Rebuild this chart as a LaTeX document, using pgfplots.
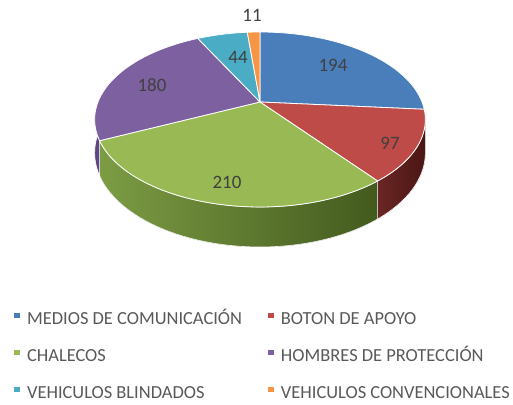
\documentclass[border=0pt]{standalone}
\usepackage{pgfplots}
\pgfplotsset{compat=1.18}
\usepackage{pgfplotstable}
\usepgfplotslibrary{fillbetween}
\usepackage{fontspec}
\setmainfont{Carlito}

\definecolor{cA}{HTML}{4A7EBB}
\definecolor{cB}{HTML}{BE4B48}
\definecolor{cC}{HTML}{98B954}
\definecolor{cD}{HTML}{7D60A0}
\definecolor{cE}{HTML}{4AACC5}
\definecolor{cF}{HTML}{F69546}
\definecolor{sideCL}{HTML}{7C9C44}
\definecolor{sideCR}{HTML}{435A1E}
\definecolor{sideBL}{HTML}{6A2624}
\definecolor{sideBR}{HTML}{4A1614}
\definecolor{sideD}{HTML}{5E4680}
\definecolor{labc}{HTML}{404040}
\definecolor{legc}{HTML}{595959}

\pgfplotstableread{
value
194
97
210
180
44
11
}\piedata

\pgfplotstableread{
x y lab
252 390 11
333 340 194
390 262 97
227 223 210
152 320 180
238 348 44
}\labeldata

\pgfplotstablegetelem{0}{value}\of\piedata\let\vA\pgfplotsretval
\pgfplotstablegetelem{1}{value}\of\piedata\let\vB\pgfplotsretval
\pgfplotstablegetelem{2}{value}\of\piedata\let\vC\pgfplotsretval
\pgfplotstablegetelem{3}{value}\of\piedata\let\vD\pgfplotsretval
\pgfplotstablegetelem{4}{value}\of\piedata\let\vE\pgfplotsretval
\pgfplotstablegetelem{5}{value}\of\piedata\let\vF\pgfplotsretval
\pgfmathsetmacro\tot{\vA+\vB+\vC+\vD+\vE+\vF}
\pgfmathsetmacro\aA{90}
\pgfmathsetmacro\aB{\aA-360*(\vA/\tot)}
\pgfmathsetmacro\aC{\aB-360*(\vB/\tot)}
\pgfmathsetmacro\aD{\aC-360*(\vC/\tot)}
\pgfmathsetmacro\aE{\aD-360*(\vD/\tot)}
\pgfmathsetmacro\aF{\aE-360*(\vE/\tot)}
\pgfmathsetmacro\aG{\aF-360*(\vF/\tot)}
\pgfmathsetmacro\sRt{min(\aB,-11.5)}
\pgfmathsetmacro\sPl{max(\aE,-191.5)}

\begin{document}
\begin{tikzpicture}
\begin{axis}[
  scale only axis, width=513bp, height=405bp,
  xmin=0, xmax=513, ymin=0, ymax=405,
  hide axis, clip=false,
  declare function={
    PX(\t)=260+162*cos(\t)/(1+0.2*sin(\t));
    PY(\t)=303+84*sin(\t)/(1+0.2*sin(\t));
    PB(\t)=303+(84*sin(\t)-32)/(1+0.2*sin(\t));
  },
  legend columns=2,
  legend cell align=left,
  legend style={at={(axis cs:11,98)}, anchor=north west, draw=none, fill=none,
    font=\fontsize{18.5}{20}\selectfont, text=legc,
    nodes={text height=13bp, text depth=4bp},
    /tikz/every odd column/.append style={column sep=6bp},
    /tikz/every even column/.append style={column sep=24bp},
    row sep=16bp},
]
% sides
\addplot[forget plot, name path=rt, draw=none, domain=\aC:\sRt, samples=40, variable=\t] ({PX(\t)},{PY(\t)});
\addplot[forget plot, name path=rb, draw=none, domain=\aC:\sRt, samples=40, variable=\t] ({PX(\t)},{PB(\t)});
\addplot[forget plot, left color=sideBL, right color=sideBR, draw=white, line width=0.6pt] fill between[of=rt and rb];
\addplot[forget plot, name path=gt, draw=none, domain=\aD:\aC, samples=60, variable=\t] ({PX(\t)},{PY(\t)});
\addplot[forget plot, name path=gb, draw=none, domain=\aD:\aC, samples=60, variable=\t] ({PX(\t)},{PB(\t)});
\addplot[forget plot, left color=sideCL, right color=sideCR, draw=white, line width=0.6pt] fill between[of=gt and gb];
\addplot[forget plot, name path=pt, draw=none, domain=\sPl:\aD, samples=20, variable=\t] ({PX(\t)},{PY(\t)});
\addplot[forget plot, name path=pb, draw=none, domain=\sPl:\aD, samples=20, variable=\t] ({PX(\t)},{PB(\t)});
\addplot[forget plot, fill=sideD, draw=white, line width=0.6pt] fill between[of=pt and pb];
% top faces
\addplot[forget plot, fill=cA, draw=white, line width=0.8pt, domain=\aB:\aA, samples=60, variable=\t] ({PX(\t)},{PY(\t)}) -- (axis cs:260,303) -- cycle;
\addplot[forget plot, fill=cB, draw=white, line width=0.8pt, domain=\aC:\aB, samples=40, variable=\t] ({PX(\t)},{PY(\t)}) -- (axis cs:260,303) -- cycle;
\addplot[forget plot, fill=cC, draw=white, line width=0.8pt, domain=\aD:\aC, samples=60, variable=\t] ({PX(\t)},{PY(\t)}) -- (axis cs:260,303) -- cycle;
\addplot[forget plot, fill=cD, draw=white, line width=0.8pt, domain=\aE:\aD, samples=60, variable=\t] ({PX(\t)},{PY(\t)}) -- (axis cs:260,303) -- cycle;
\addplot[forget plot, fill=cE, draw=white, line width=0.8pt, domain=\aF:\aE, samples=20, variable=\t] ({PX(\t)},{PY(\t)}) -- (axis cs:260,303) -- cycle;
\addplot[forget plot, fill=cF, draw=white, line width=0.8pt, domain=\aG:\aF, samples=10, variable=\t] ({PX(\t)},{PY(\t)}) -- (axis cs:260,303) -- cycle;
% labels
\addplot[forget plot, draw=none, mark=none, nodes near coords, point meta=explicit symbolic,
  nodes near coords style={anchor=center, font=\fontsize{19}{20}\selectfont, text=labc}]
  table[x=x, y=y, meta=lab] {\labeldata};
% legend
\addlegendimage{legend image code/.code={\fill[cA] (0bp,2bp) rectangle (4.5bp,6.5bp);}}
\addlegendentry{MEDIOS DE COMUNICACIÓN}
\addlegendimage{legend image code/.code={\fill[cB] (0bp,2bp) rectangle (4.5bp,6.5bp);}}
\addlegendentry{BOTON DE APOYO}
\addlegendimage{legend image code/.code={\fill[cC] (0bp,2bp) rectangle (4.5bp,6.5bp);}}
\addlegendentry{CHALECOS}
\addlegendimage{legend image code/.code={\fill[cD] (0bp,2bp) rectangle (4.5bp,6.5bp);}}
\addlegendentry{HOMBRES DE PROTECCIÓN}
\addlegendimage{legend image code/.code={\fill[cE] (0bp,2bp) rectangle (4.5bp,6.5bp);}}
\addlegendentry{VEHICULOS BLINDADOS}
\addlegendimage{legend image code/.code={\fill[cF] (0bp,2bp) rectangle (4.5bp,6.5bp);}}
\addlegendentry{VEHICULOS CONVENCIONALES}
\end{axis}
\pgfresetboundingbox
\path (0,0) rectangle (513bp,405bp);
\end{tikzpicture}
\end{document}
